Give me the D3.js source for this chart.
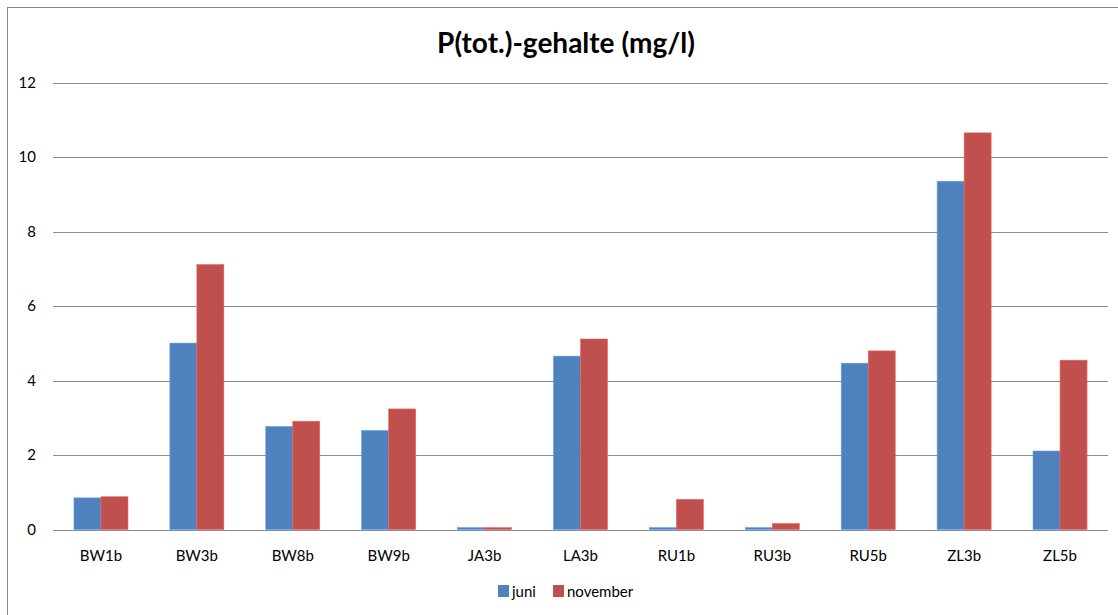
<!DOCTYPE html>
<html>
<head>
<meta charset="utf-8">
<script src="https://cdn.jsdelivr.net/npm/d3@7"></script>
<style>
body { margin: 0; background: #fff; }
text { font-family: Lato, "Open Sans", sans-serif; }
</style>
</head>
<body>
<div id="chart"></div>
<script>
var categories = ["BW1b","BW3b","BW8b","BW9b","JA3b","LA3b","RU1b","RU3b","RU5b","ZL3b","ZL5b"];
var juni = [0.85, 5.01, 2.77, 2.66, 0.05, 4.66, 0.05, 0.05, 4.47, 9.36, 2.11];
var november = [0.88, 7.12, 2.91, 3.24, 0.05, 5.12, 0.81, 0.16, 4.80, 10.66, 4.55];
var seriesNames = ["juni", "november"];
var seriesColors = ["#4f81bd", "#c0504d"];
var yTicks = [0, 2, 4, 6, 8, 10, 12];

var width = 1118, height = 615;
var plotLeft = 53, plotRight = 1108, plotTop = 83, plotBottom = 529.5;

var svg = d3.select("#chart").append("svg")
    .attr("width", width)
    .attr("height", height);

// chart frame
svg.append("rect")
    .attr("x", 7.5).attr("y", 7.5)
    .attr("width", width + 10).attr("height", height + 10)
    .attr("fill", "none").attr("stroke", "#868686").attr("stroke-width", 1);

var x = d3.scaleBand().domain(categories).range([plotLeft, plotRight]).paddingInner(0).paddingOuter(0);
var y = d3.scaleLinear().domain([0, 12]).range([plotBottom, plotTop]);

var barW = x.bandwidth() * 27 / 95.9;

// grid lines
svg.append("g").selectAll("line")
    .data(yTicks)
    .enter().append("line")
    .attr("x1", plotLeft).attr("x2", plotRight)
    .attr("y1", function(d){ return Math.round(y(d)) + 0.5; })
    .attr("y2", function(d){ return Math.round(y(d)) + 0.5; })
    .attr("stroke", "#8c8c8c").attr("stroke-width", 1);

svg.append("g").selectAll("text")
    .data(yTicks)
    .enter().append("text")
    .attr("x", 36).attr("y", function(d){ return y(d) + 5; })
    .attr("text-anchor", "end")
    .attr("font-size", 15).attr("fill", "#000")
    .text(function(d){ return d; });

var data = [juni, november];
data.forEach(function(vals, s) {
    svg.append("g").selectAll("rect")
        .data(vals)
        .enter().append("rect")
        .attr("x", function(d, i){ return x(categories[i]) + x.bandwidth()/2 - barW + s*barW; })
        .attr("y", function(d){ return y(d); })
        .attr("width", barW)
        .attr("height", function(d){ return plotBottom - y(d); })
        .attr("fill", seriesColors[s])
        .attr("stroke", d3.color(seriesColors[s]).brighter(0.6))
        .attr("stroke-width", 0.6);
});

// baseline on top
svg.append("line")
    .attr("x1", plotLeft).attr("x2", plotRight)
    .attr("y1", Math.round(y(0)) + 0.5).attr("y2", Math.round(y(0)) + 0.5)
    .attr("stroke", "#8c8c8c");

svg.append("g").selectAll("text")
    .data(categories)
    .enter().append("text")
    .attr("x", function(d){ return x(d) + x.bandwidth()/2; })
    .attr("y", 561)
    .attr("text-anchor", "middle")
    .attr("font-size", 15).attr("fill", "#000")
    .text(function(d){ return d; });

svg.append("text")
    .attr("x", 566).attr("y", 53)
    .attr("text-anchor", "middle")
    .attr("font-size", 28).attr("font-weight", "bold")
    .text("P(tot.)-gehalte (mg/l)");

// legend
var legendX = [498, 553];
seriesNames.forEach(function(n, i) {
    svg.append("rect")
        .attr("x", legendX[i]).attr("y", 585)
        .attr("width", 11).attr("height", 12)
        .attr("fill", seriesColors[i]);
    svg.append("text")
        .attr("x", legendX[i] + 14).attr("y", 597)
        .attr("font-size", 15)
        .text(n);
});
</script>
</body>
</html>
